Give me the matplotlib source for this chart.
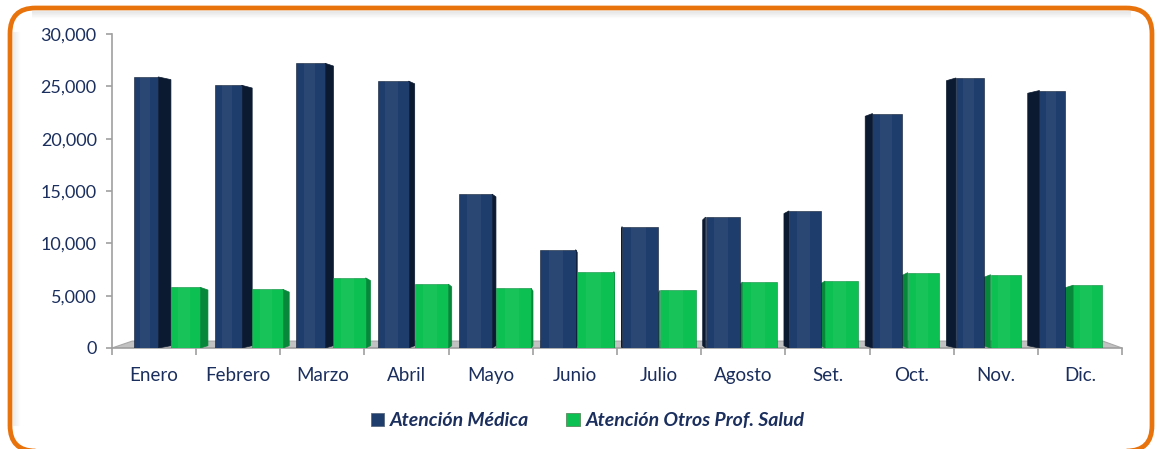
import numpy as np
import matplotlib
matplotlib.use("Agg")
import matplotlib.pyplot as plt
from matplotlib.patches import Polygon, FancyBboxPatch, Patch
from matplotlib.lines import Line2D

# data
meses = ["Enero", "Febrero", "Marzo", "Abril", "Mayo", "Junio",
         "Julio", "Agosto", "Set.", "Oct.", "Nov.", "Dic."]
atencion_medica = [25900, 25100, 27200, 25500, 14700, 9400,
                   11600, 12500, 13100, 22400, 25800, 24600]
atencion_otros = [5800, 5600, 6700, 6100, 5700, 7300,
                  5500, 6300, 6400, 7200, 7000, 6000]

series_names = ["Atención Médica", "Atención Otros Prof. Salud"]
yticks = [0, 5000, 10000, 15000, 20000, 25000, 30000]

NAVY = "#1f3d6c"
NAVY_SIDE = "#0b1a30"
GREEN = "#0cc151"
GREEN_SIDE = "#06873a"
TXT = "#1b2f5e"
ORANGE = "#e8720c"

plt.rcParams["font.family"] = ["Lato", "DejaVu Sans"]

fig = plt.figure(figsize=(11.57, 4.49), dpi=100)
fig.patch.set_facecolor("white")

W, H = 1157, 449


def fx(px):
    return px / W


def fy(py):
    return 1 - py / H


# soft inner shadow along the top and left of the frame
for k in range(7):
    a = 0.15 * (1 - k / 7)
    fig.add_artist(Line2D([fx(32), fx(1130)], [fy(11 + k), fy(11 + k)],
                          transform=fig.transFigure, color="gray", alpha=a, lw=1,
                          solid_capstyle="round"))
    fig.add_artist(Line2D([fx(13 + k), fx(13 + k)], [fy(32), fy(425)],
                          transform=fig.transFigure, color="gray", alpha=a * 0.7, lw=1,
                          solid_capstyle="round"))

# rounded orange frame (bottom edge sits at the image edge)
fig.patches.append(FancyBboxPatch(
    (fx(10), fy(451)), fx(1152) - fx(10), fy(8) - fy(451),
    boxstyle="round,pad=0,rounding_size=0.022", transform=fig.transFigure,
    fill=False, edgecolor=ORANGE, linewidth=3.4, mutation_aspect=W / H))

ax = fig.add_axes([112 / W, 101 / H, 1010 / W, 314 / H])
ax.set_xlim(-0.5, len(meses) - 0.5)
ax.set_ylim(0, 30000)
ax.patch.set_alpha(0)

# floor of the 3-D plot
floor = Polygon([(0, 0), (1, 0), (0.981, 0.022), (0.02, 0.022)], closed=True,
                transform=ax.transAxes, facecolor="#c2c2c2", edgecolor="#a8a8a8",
                linewidth=0.8, zorder=1)
ax.add_patch(floor)

x = np.arange(len(meses))
mid = (len(meses) - 1) / 2
bw = 0.44


def draw_bar(xl, h, face, side, depth):
    # depth > 0: side face on the right, < 0: on the left
    s = abs(depth)
    if depth >= 0:
        fx0, fx1 = xl, xl + bw - s
        sx0, sx1 = fx1, xl + bw
        side_poly = [(sx0, 0), (sx1, 220), (sx1, h - 260), (sx0, h)]
    else:
        fx0, fx1 = xl + s, xl + bw
        sx0, sx1 = xl, fx0
        side_poly = [(sx1, 0), (sx0, 220), (sx0, h - 260), (sx1, h)]
    ax.add_patch(Polygon(side_poly, closed=True, facecolor=side,
                         edgecolor=side, linewidth=0.5, zorder=3))
    ax.bar(fx0, h, width=fx1 - fx0, align="edge", color=face,
           edgecolor=side, linewidth=0.4, zorder=4)
    # subtle highlight on the front face
    ax.bar(fx0 + (fx1 - fx0) * 0.25, h, width=(fx1 - fx0) * 0.4, align="edge",
           color="white", alpha=0.05, linewidth=0, zorder=5)


for i in range(len(meses)):
    shift = 0.19 * (mid - i) / mid
    left_navy = x[i] - bw + 0.01 + shift
    left_green = x[i] + 0.01 + shift
    d_navy = 0.15 * (mid - (left_navy + bw / 2)) / mid
    d_green = 0.10 * (mid - (left_green + bw / 2)) / mid
    draw_bar(left_navy, atencion_medica[i], NAVY, NAVY_SIDE, d_navy)
    draw_bar(left_green, atencion_otros[i], GREEN, GREEN_SIDE, d_green)

for side in ["top", "right"]:
    ax.spines[side].set_visible(False)
ax.spines["left"].set_color("#a0a0a0")
ax.spines["bottom"].set_color("#a0a0a0")
ax.spines["left"].set_linewidth(1.2)
ax.spines["bottom"].set_linewidth(1.2)

ax.set_yticks(yticks)
ax.set_yticklabels([f"{v:,}" for v in yticks])
ax.set_xticks(np.arange(-0.5, len(meses) + 0.5, 1.0))
ax.set_xticklabels([])
ax.set_xticks(x, minor=True)
ax.set_xticklabels(meses, minor=True)
ax.tick_params(axis="x", which="major", length=5, color="#a0a0a0", width=1.2)
ax.tick_params(axis="x", which="minor", length=0, pad=14, labelsize=13.5, labelcolor=TXT)
ax.tick_params(axis="y", length=4, color="#a0a0a0", width=1.2, pad=7,
               labelsize=13, labelcolor=TXT)

handles = [Patch(facecolor=NAVY, edgecolor="#5a6a80", linewidth=0.6),
           Patch(facecolor=GREEN, edgecolor="#5a8a60", linewidth=0.6)]
leg = fig.legend(handles, series_names, loc="center", bbox_to_anchor=(0.508, 0.063),
                 ncol=2, frameon=False, handlelength=0.7, handleheight=0.7,
                 handletextpad=0.3, columnspacing=1.9,
                 prop={"size": 14, "weight": "bold", "style": "italic"})
for t in leg.get_texts():
    t.set_color(TXT)

fig.savefig("out.png", dpi=100, facecolor="white")
